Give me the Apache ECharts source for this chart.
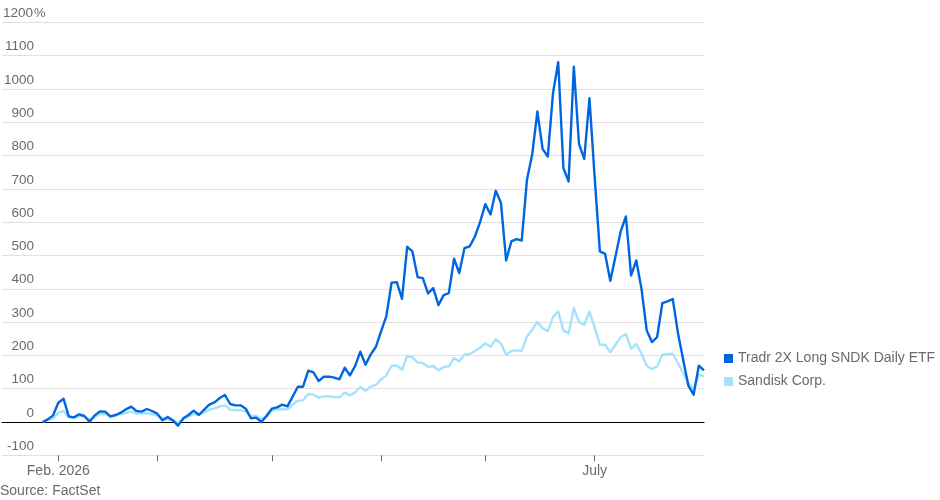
<!DOCTYPE html>
<html>
<head>
<meta charset="utf-8">
<script src="https://cdn.jsdelivr.net/npm/echarts@6/dist/echarts.min.js"></script>
<style>html,body{margin:0;padding:0;background:#fff;}#c{width:940px;height:500px;}</style>
</head>
<body>
<div id="c"></div>
<script>
const dates = [
  "Jan 28","Jan 29","Jan 30",
  "Feb 2","Feb 3","Feb 4","Feb 5","Feb 6","Feb 9","Feb 10","Feb 11","Feb 12","Feb 13","Feb 17","Feb 18","Feb 19","Feb 20","Feb 23","Feb 24","Feb 25","Feb 26","Feb 27",
  "Mar 2","Mar 3","Mar 4","Mar 5","Mar 6","Mar 9","Mar 10","Mar 11","Mar 12","Mar 13","Mar 16","Mar 17","Mar 18","Mar 19","Mar 20","Mar 23","Mar 24","Mar 25","Mar 26","Mar 27","Mar 30","Mar 31",
  "Apr 1","Apr 2","Apr 6","Apr 7","Apr 8","Apr 9","Apr 10","Apr 13","Apr 14","Apr 15","Apr 16","Apr 17","Apr 20","Apr 21","Apr 22","Apr 23","Apr 24","Apr 27","Apr 28","Apr 29","Apr 30",
  "May 1","May 4","May 5","May 6","May 7","May 8","May 11","May 12","May 13","May 14","May 15","May 18","May 19","May 20","May 21","May 22","May 26","May 27","May 28","May 29",
  "Jun 1","Jun 2","Jun 3","Jun 4","Jun 5","Jun 8","Jun 9","Jun 10","Jun 11","Jun 12","Jun 15","Jun 16","Jun 17","Jun 18","Jun 22","Jun 23","Jun 24","Jun 25","Jun 26","Jun 29","Jun 30",
  "Jul 1","Jul 2","Jul 6","Jul 7","Jul 8","Jul 9","Jul 10","Jul 13","Jul 14","Jul 15","Jul 16","Jul 17","Jul 20","Jul 21","Jul 22","Jul 23","Jul 24","Jul 27","Jul 28","Jul 29","Jul 30","Jul 31"
];

const tradr = [
  0, 8, 20,
  58, 70, 17, 14, 23, 18, 1, 20, 32, 31, 17, 21, 28, 38, 46, 33, 31, 39, 33,
  25, 5, 15, 5, -11, 11, 21, 34, 21, 37, 52, 59, 72, 81, 54, 50, 50, 40, 11, 13, 0, 19,
  40, 44, 52, 47, 76, 106, 106, 154, 149, 123, 136, 136, 133, 128, 163, 140, 168, 211, 172, 203, 226,
  273, 318, 418, 420, 370, 526, 512, 435, 432, 386, 402, 351, 381, 387, 490, 447, 522, 527, 557, 600,
  654, 623, 694, 658, 485, 542, 549, 545, 727, 802, 932, 820, 797, 987, 1080, 762, 722, 1067, 834, 790, 972,
  735, 512, 505, 424, 497, 572, 617, 440, 485, 399, 275, 240, 255, 357, 362, 369, 267, 187, 109, 82, 169, 155
];

const sandisk = [
  0, 6, 10,
  28, 33, 14, 12, 17, 17, 5, 15, 24, 24, 15, 19, 24, 27, 31, 25, 25, 27, 24,
  20, 9, 7, 5, -3, 9, 17, 24, 22, 29, 37, 41, 47, 50, 37, 35, 35, 32, 17, 19, 7, 16,
  34, 37, 39, 37, 52, 64, 65, 84, 82, 73, 77, 77, 75, 74, 88, 80, 89, 105, 94, 106, 112,
  128, 140, 169, 170, 157, 198, 194, 179, 177, 165, 168, 155, 165, 167, 192, 182, 203, 204, 213, 223,
  236, 226, 248, 236, 202, 213, 215, 214, 257, 277, 300, 281, 273, 315, 332, 275, 266, 342, 300, 292, 331,
  285, 232, 232, 209, 232, 255, 264, 220, 234, 205, 169, 159, 167, 202, 204, 205, 177, 147, 117, 97, 142, 137
];

const monthStarts = ["Feb 2", "Mar 2", "Apr 1", "May 1", "Jun 1", "Jul 1"];
const xTickLabels = { "Feb 2": "Feb. 2026", "Jul 1": "July" };
const seriesNames = ["Tradr 2X Long SNDK Daily ETF", "Sandisk Corp."];
const yMin = -100, yMax = 1200, yStep = 100;

const FONT = "'Liberation Sans', Arial, sans-serif";
const GREY = '#6a6a6a';
const DARK = '#0066e0';
const LIGHT = '#a5e3fd';

const chart = echarts.init(document.getElementById('c'), null, { renderer: 'canvas' });
chart.setOption({
  animation: false,
  backgroundColor: '#fff',
  textStyle: { fontFamily: FONT },
  title: {
    text: 'Source: FactSet',
    left: 0, top: 484, padding: 0,
    textStyle: { fontFamily: FONT, fontSize: 14, fontWeight: 'normal', color: GREY }
  },
  legend: {
    orient: 'vertical',
    left: 719, top: 346.5,
    itemWidth: 9, itemHeight: 9, itemGap: 9,
    icon: 'rect',
    data: seriesNames,
    textStyle: { fontFamily: FONT, fontSize: 14, color: GREY, lineHeight: 13 }
  },
  grid: [
    { left: 0, right: 236, top: 22.3, bottom: 44.7 },
    { left: 42.7, right: 236, top: 22.3, bottom: 44.7 }
  ],
  xAxis: [
    {
      gridIndex: 0, type: 'value', min: 0, max: 1,
      axisLine: { show: true, onZero: true, lineStyle: { color: '#000', width: 1.2 } },
      axisTick: { show: false }, axisLabel: { show: false }, splitLine: { show: false }
    },
    {
      gridIndex: 1, type: 'category', boundaryGap: false, data: dates,
      axisLine: { show: false, onZero: false },
      axisTick: {
        show: true, length: 6,
        interval: (i, v) => monthStarts.includes(v),
        lineStyle: { color: '#666', width: 1 }
      },
      axisLabel: {
        show: true, margin: 9,
        interval: (i, v) => xTickLabels[v] !== undefined,
        formatter: v => xTickLabels[v] || '',
        fontFamily: FONT, fontSize: 14, color: GREY
      },
      splitLine: { show: false }
    }
  ],
  yAxis: [
    {
      gridIndex: 0, type: 'value', min: yMin, max: yMax, interval: yStep,
      axisLine: { show: false }, axisTick: { show: false },
      splitLine: { show: true, lineStyle: { color: '#e0e0e0', width: 1 } },
      axisLabel: {
        inside: true, margin: 0, align: 'left', verticalAlign: 'bottom',
        padding: [0, 0, 2, 0],
        formatter: v => '{v|' + v + '}' + (v === yMax ? '{p|%}' : ''),
        rich: {
          v: { width: 32, align: 'right', fontFamily: FONT, fontSize: 13.5, color: GREY },
          p: { fontFamily: FONT, fontSize: 13, color: GREY }
        }
      }
    },
    {
      gridIndex: 1, type: 'value', min: yMin, max: yMax, interval: yStep, show: false,
      splitLine: { show: false }
    }
  ],
  series: [
    {
      name: seriesNames[1], type: 'line', xAxisIndex: 1, yAxisIndex: 1,
      data: sandisk, showSymbol: false, symbol: 'none', z: 3,
      itemStyle: { color: LIGHT },
      lineStyle: { color: LIGHT, width: 2.4, join: 'round' }
    },
    {
      name: seriesNames[0], type: 'line', xAxisIndex: 1, yAxisIndex: 1,
      data: tradr, showSymbol: false, symbol: 'none', z: 4,
      itemStyle: { color: DARK },
      lineStyle: { color: DARK, width: 2.4, join: 'round' }
    }
  ]
});
</script>
</body>
</html>
